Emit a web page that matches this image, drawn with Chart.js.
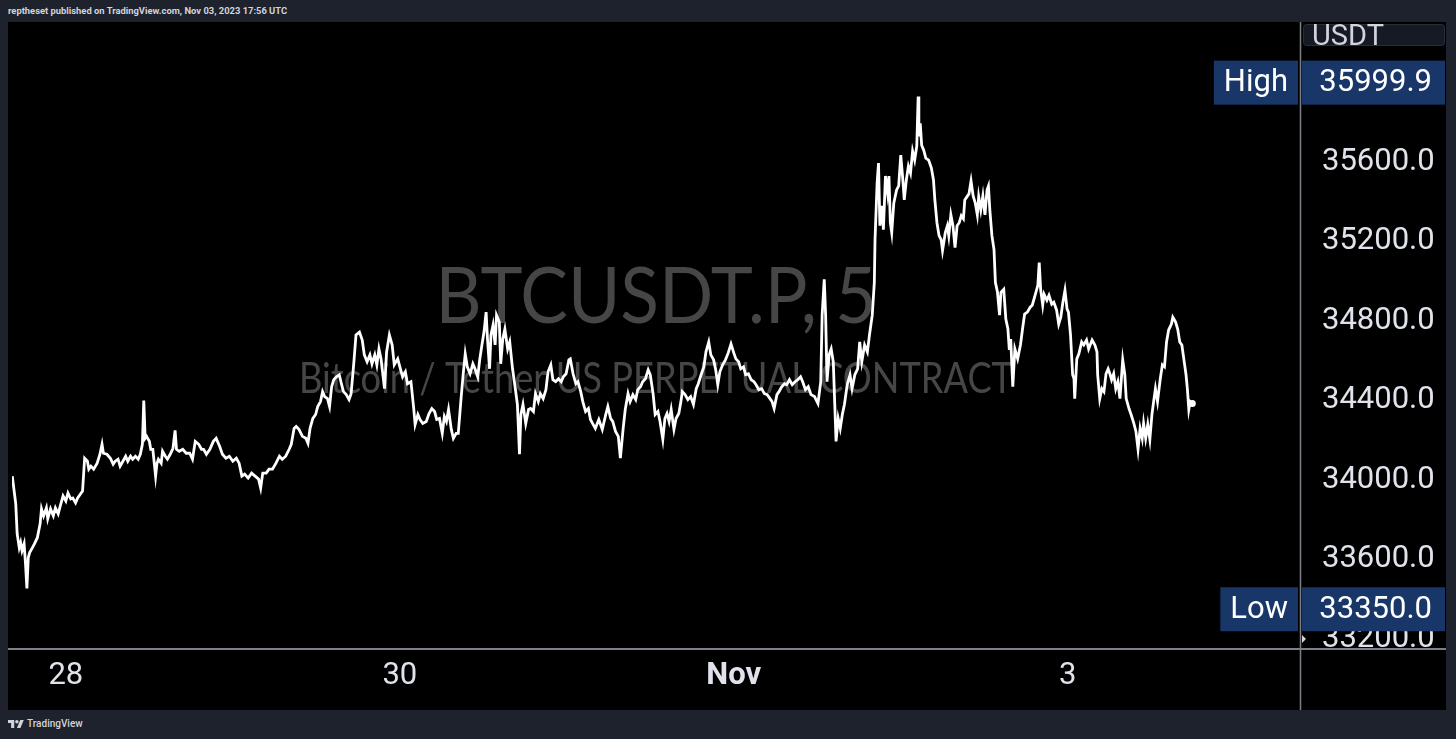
<!DOCTYPE html>
<html lang="en">
<head>
<meta charset="UTF-8" />
<meta name="viewport" content="width=device-width, initial-scale=1.0" />
<script src="https://cdn.jsdelivr.net/npm/chart.js@4.4.0/dist/chart.umd.min.js"></script>
<title>BTCUSDT.P, 5</title>
<style>
  html, body { margin: 0; padding: 0; width: 1456px; height: 739px; overflow: hidden; background: #1e222d; }
  #header { position: absolute; left: 8px; top: 5px; font: 700 9.4px Roboto, sans-serif; color: #d1d4dc; white-space: nowrap; }
  #wrap { position: absolute; left: 8px; top: 22px; width: 1438px; height: 688px; background: #000; }
  #footer { position: absolute; left: 8px; top: 718px; font: 500 10px Roboto, sans-serif; color: #d1d4dc; display: flex; align-items: center; gap: 3px; }
</style>
</head>
<body>
<div id="header">reptheset published on TradingView.com, Nov 03, 2023 17:56 UTC</div>
<div id="wrap"><canvas id="myChart" width="1438" height="688"></canvas></div>
<div id="footer">
  <svg width="16" height="11" viewBox="0 0 36 24"><path d="M14 22H7V11H0V4h14v18z" fill="#d1d4dc"/><circle cx="20" cy="8" r="4" fill="#d1d4dc"/><path d="M28 22h-8l7.5-18h8L28 22z" fill="#d1d4dc"/></svg>
  <span>TradingView</span>
</div>
<script>
// hours since Oct 28 00:00 UTC, 5m close of BTCUSDT.P
const hours = [
  -7.7,-7.2,-7.0,-6.7,-6.5,-6.3,-6.0,-5.8,-5.6,-5.4,-5.2,-4.8,-4.5,-4.1,-3.7,-3.5,-3.2,-2.8,-2.6,-2.2,
  -1.8,-1.5,-1.1,-0.8,-0.4,0.0,0.3,0.7,1.0,1.4,1.7,2.1,2.4,2.7,3.1,3.3,3.6,4.0,4.5,4.9,
  5.2,5.4,5.9,6.4,6.8,7.1,7.5,7.8,8.2,8.6,8.9,9.3,9.6,10.0,10.4,10.7,11.0,11.2,11.4,11.6,
  12.0,12.2,12.5,12.9,13.1,13.3,13.7,13.9,14.3,14.6,15.0,15.4,15.7,15.9,16.3,16.8,17.3,17.8,18.2,18.6,
  19.1,19.5,
  19.8,20.2,20.7,21.2,21.6,22.1,22.5,23.0,23.5,24.0,24.5,24.9,25.3,25.7,26.2,26.7,27.2,27.7,28.0,28.3,
  28.8,29.2,29.7,30.2,30.7,31.1,31.6,32.1,32.4,32.8,33.1,33.5,34.0,34.5,34.8,35.1,35.5,35.9,36.2,36.6,
  36.9,37.2,37.6,37.9,38.2,38.5,38.9,39.3,39.6,39.9,40.3,40.7,41.0,41.4,41.7,42.2,42.6,42.9,43.3,43.7,
  44.0,44.4,44.7,45.0,45.3,45.8,46.1,46.5,46.9,47.2,47.7,48.2,
  48.4,48.8,49.1,49.6,50.0,50.2,50.6,50.9,51.3,51.8,52.2,52.6,53.0,53.3,53.7,54.1,54.4,54.7,55.0,55.4,
  55.7,56.1,56.4,56.8,57.1,57.4,57.7,58.1,58.5,58.8,59.2,59.5,59.8,60.1,60.4,60.6,60.9,61.1,61.4,61.7,
  61.9,62.3,62.5,62.8,63.1,63.5,63.8,64.2,64.6,64.9,65.2,65.4,65.7,66.1,66.5,66.8,67.2,67.5,67.9,68.2,
  68.6,69.0,69.3,69.7,70.0,70.4,70.8,71.2,71.5,71.9,72.3,72.5,72.9,73.3,73.6,74.0,74.3,74.7,75.1,75.4,
  75.7,76.1,76.6,77.1,77.6,77.9,78.3,78.6,79.0,79.4,79.7,80.1,80.4,80.8,81.1,81.5,81.9,82.2,82.6,82.9,
  83.3,83.7,84.0,84.4,84.7,85.1,85.4,85.8,86.1,86.4,86.7,87.0,87.4,87.7,88.1,88.4,88.6,89.0,89.4,89.8,
  90.2,90.6,90.9,91.3,91.7,92.0,92.4,92.7,93.1,93.4,93.7,94.0,94.4,94.8,95.2,95.6,96.0,96.3,96.7,97.0,
  97.4,97.7,98.1,98.5,98.9,99.2,99.6,100.0,100.4,100.8,101.2,101.5,101.8,102.2,102.5,102.9,103.3,103.6,104.0,104.4,
  104.8,105.2,105.6,105.9,106.3,106.7,107.1,
  107.6,108.1,108.5,108.7,109.0,109.2,109.4,109.7,110.0,110.3,110.5,110.7,111.0,111.3,111.6,111.9,112.3,112.7,113.0,113.4,
  113.8,114.1,114.4,114.8,115.2,115.5,115.9,116.2,116.3,116.6,116.8,117.0,117.3,117.5,117.8,118.1,118.3,118.5,118.7,119.0,
  119.4,119.7,120.0,120.3,120.5,120.8,121.1,121.4,121.7,122.0,122.3,122.5,122.6,122.8,123.0,123.3,123.6,124.0,124.4,124.7,
  124.9,125.2,125.5,125.8,126.0,126.4,126.7,126.9,127.2,127.5,127.8,128.1,128.4,128.7,129.0,129.2,129.5,129.8,130.1,130.4,
  130.7,131.0,131.2,131.5,131.8,132.1,132.4,132.6,132.8,133.1,133.4,133.6,133.9,134.2,
  134.4,134.8,135.1,135.4,135.6,135.8,136.1,136.4,136.8,137.2,137.5,137.8,138.2,138.6,138.9,139.3,139.7,139.9,140.1,140.4,
  140.6,141.0,141.3,141.7,142.0,142.4,142.7,143.0,143.3,143.6,143.9,144.1,144.4,144.7,144.9,145.0,145.3,145.6,146.0,146.3,
  146.7,147.0,147.5,147.9,148.2,148.3,148.6,148.9,149.2,149.5,149.8,150.1,150.3,150.6,150.9,151.2,151.5,151.9,152.2,152.4,
  152.8,153.1,153.5,153.8,154.1,154.4,154.7,154.9,155.2,155.5,155.8,156.1,156.4,156.6,156.9,157.3,157.6,157.9,158.2,158.5,
  158.9,159.1,159.5,159.8,160.1,160.4,160.8,161.0,161.2,161.4,161.6,161.9
];
const close = [
  34020,33880,33730,33660,33685,33645,33680,33580,33455,33610,33635,33660,33680,33710,33780,33855,33820,33860,33805,33855,
  33820,33860,33830,33870,33920,33895,33935,33905,33910,33885,33910,33930,33945,34110,34095,34055,34070,34055,34085,34130,
  34180,34135,34130,34110,34080,34095,34105,34070,34095,34120,34095,34120,34105,34120,34105,34130,34180,34400,34210,34220,
  34195,34155,34155,34020,34085,34105,34085,34145,34120,34105,34130,34160,34250,34155,34145,34155,34135,34135,34105,34195,
  34180,34155,
  34155,34130,34155,34195,34210,34170,34130,34110,34120,34095,34110,34085,34020,34030,34010,34035,34020,34005,33960,34035,
  34035,34055,34055,34085,34120,34105,34120,34155,34180,34260,34270,34255,34220,34210,34185,34260,34310,34330,34370,34395,
  34445,34420,34410,34370,34470,34505,34520,34530,34485,34445,34430,34405,34435,34595,34730,34745,34705,34630,34595,34630,
  34585,34630,34580,34660,34610,34460,34645,34730,34680,34580,34610,34545,
  34520,34545,34485,34495,34360,34280,34330,34305,34285,34295,34335,34360,34345,34305,34310,34235,34320,34295,34355,34255,
  34210,34235,34235,34410,34530,34635,34570,34535,34585,34560,34520,34610,34680,34745,34845,34710,34560,34730,34780,34680,
  34830,34795,34585,34710,34760,34660,34695,34560,34460,34380,34130,34330,34380,34285,34355,34360,34345,34435,34395,34435,
  34410,34455,34545,34580,34505,34495,34510,34495,34520,34535,34605,34610,34535,34485,34495,34445,34395,34345,34360,34305,
  34285,34260,34305,34255,34330,34370,34310,34295,34245,34220,34110,34260,34355,34435,34395,34430,34405,34455,34470,34495,
  34510,34555,34530,34435,34330,34345,34295,34205,34310,34335,34295,34355,34255,34310,34335,34395,34445,34430,34405,34420,
  34380,34460,34485,34530,34570,34645,34695,34630,34605,34555,34480,34545,34580,34605,34640,34685,34640,34610,34595,34560,
  34570,34530,34535,34505,34495,34480,34455,34460,34435,34430,34410,34395,34360,34430,34445,34470,34485,34480,34505,34480,
  34495,34505,34520,34495,34455,34470,34430,
  34420,34385,34495,34830,35010,34830,34495,34630,34660,34595,34395,34195,34310,34260,34330,34380,34480,34530,34460,34530,
  34560,34695,34595,34680,34645,34730,34830,34995,35210,35495,35595,35280,35380,35260,35530,35445,35530,35295,35245,35395,
  35460,35480,35635,35510,35410,35510,35580,35545,35655,35610,35680,35930,35730,35795,35685,35660,35620,35610,35570,35510,
  35410,35295,35230,35210,35155,35245,35280,35230,35335,35280,35170,35280,35295,35330,35315,35410,35425,35440,35505,35430,
  35395,35335,35425,35360,35430,35335,35460,35480,35360,35230,35160,34995,34945,34830,
  34945,34960,34810,34760,34655,34710,34470,34660,34610,34680,34760,34835,34845,34870,34880,34930,34980,35095,34960,34880,
  34935,34905,34930,34885,34895,34855,34785,34820,34895,34955,34860,34845,34730,34530,34510,34410,34610,34635,34695,34680,
  34705,34660,34705,34680,34645,34530,34410,34460,34445,34535,34560,34530,34505,34535,34460,34495,34410,34605,34530,34410,
  34360,34330,34285,34245,34155,34260,34210,34285,34210,34280,34205,34330,34410,34460,34395,34510,34580,34570,34695,34755,
  34785,34820,34795,34760,34695,34680,34580,34530,34455,34355,34395,34385
];
const dayTicks = [0, 48, 96, 144];
const dayLabels = ['28', '30', 'Nov', '3'];
const priceTicks = [33200, 33600, 34000, 34400, 34800, 35200, 35600, 36000];
const highPrice = 35999.9;
const lowPrice = 33350.0;
const symbol = 'BTCUSDT.P, 5';
const description = 'Bitcoin / Tether US PERPETUAL CONTRACT';
const currency = 'USDT';

const FONT = 'Roboto, sans-serif';
const tagColor = '#183768';
const lineGray = '#7d8089';

const points = hours.map((h, i) => ({ x: h, y: close[i] }));

function fitText(ctx, text, x, y, width) {
  const w = ctx.measureText(text).width;
  ctx.save();
  ctx.translate(x, y);
  ctx.scale(width / w, 1);
  ctx.fillText(text, 0, 0);
  ctx.restore();
}

function tag(ctx, yPix, label, value, area) {
  ctx.font = '31px ' + FONT;
  const lw = ctx.measureText(label).width + 20;
  ctx.fillStyle = tagColor;
  ctx.fillRect(area.right - 2 - lw, yPix - 22, lw, 44);
  ctx.fillRect(area.right + 2, yPix - 22, 143, 44);
  ctx.fillStyle = '#ffffff';
  ctx.textBaseline = 'middle';
  ctx.textAlign = 'center';
  ctx.fillText(label, area.right - 2 - lw / 2, yPix + 1);
  ctx.textAlign = 'right';
  ctx.fillText(value, area.right + 132, yPix + 1);
}

const decor = {
  id: 'decor',
  beforeDatasetsDraw(chart) {
    const { ctx, chartArea: a } = chart;
    const cx = (a.left + a.right) / 2;
    ctx.save();
    ctx.fillStyle = '#464646';
    ctx.textAlign = 'center';
    ctx.textBaseline = 'alphabetic';
    ctx.font = '78px Lato, ' + FONT;
    fitText(ctx, symbol, cx, 301, 441);
    ctx.font = '42px Lato, ' + FONT;
    fitText(ctx, description, cx, 371, 714);
    ctx.restore();
  },
  afterDraw(chart) {
    const { ctx, chartArea: a, scales } = chart;
    const W = chart.width, H = chart.height;
    ctx.save();
    // keep the lowest price label from spilling under the time axis
    ctx.fillStyle = '#000';
    ctx.fillRect(a.right, a.bottom, W - a.right, H - a.bottom);
    // pane separators
    ctx.strokeStyle = lineGray;
    ctx.lineWidth = 2;
    ctx.beginPath();
    ctx.moveTo(0, a.bottom + 1);
    ctx.lineTo(W, a.bottom + 1);
    ctx.stroke();
    ctx.lineWidth = 1.5;
    ctx.beginPath();
    ctx.moveTo(a.right + 0.5, 0);
    ctx.lineTo(a.right + 0.5, H);
    ctx.stroke();
    // currency box
    ctx.fillStyle = '#161a24';
    ctx.strokeStyle = '#2a2e39';
    ctx.lineWidth = 1;
    ctx.beginPath();
    ctx.roundRect(a.right + 3.5, 2.5, 141, 21, 3);
    ctx.fill();
    ctx.stroke();
    ctx.fillStyle = '#d1d4dc';
    ctx.font = '29px ' + FONT;
    ctx.textAlign = 'left';
    ctx.textBaseline = 'alphabetic';
    ctx.fillText(currency, a.right + 12, 23);
    // high / low tags
    tag(ctx, scales.y.getPixelForValue(highPrice), 'High', highPrice.toFixed(1), a);
    tag(ctx, scales.y.getPixelForValue(lowPrice), 'Low', lowPrice.toFixed(1), a);
    // small marker on the price scale
    const ym = scales.y.getPixelForValue(33200);
    ctx.fillStyle = '#d1d4dc';
    ctx.beginPath();
    ctx.moveTo(a.right + 2, ym - 4);
    ctx.lineTo(a.right + 6, ym);
    ctx.lineTo(a.right + 2, ym + 4);
    ctx.closePath();
    ctx.fill();
    ctx.restore();
  }
};

const ctx = document.getElementById('myChart').getContext('2d');
const myChart = new Chart(ctx, {
  type: 'line',
  data: {
    datasets: [{
      data: points,
      borderColor: '#ffffff',
      borderWidth: 2.8,
      tension: 0,
      pointRadius: c => (c.dataIndex === close.length - 1 ? 3.5 : 0),
      pointBackgroundColor: '#ffffff',
      pointBorderWidth: 0
    }]
  },
  options: {
    responsive: false,
    animation: false,
    layout: { padding: 0 },
    plugins: { legend: { display: false }, tooltip: { enabled: false } },
    scales: {
      x: {
        type: 'linear',
        min: -7.74,
        max: 177.38,
        grid: { display: false, drawTicks: false },
        border: { display: false },
        afterBuildTicks: s => { s.ticks = dayTicks.map(v => ({ value: v })); },
        afterFit: s => { s.height = 62; s.paddingLeft = 0; s.paddingRight = 0; },
        ticks: {
          autoSkip: false,
          maxRotation: 0,
          padding: 10,
          color: '#e0e3eb',
          font: c => ({ family: FONT, size: 31, weight: dayLabels[c.index] === 'Nov' ? 'bold' : 'normal' }),
          callback: (v, i) => dayLabels[i]
        }
      },
      y: {
        position: 'right',
        min: 33155,
        max: 36285,
        grid: { display: false, drawTicks: false },
        border: { display: false },
        afterBuildTicks: s => { s.ticks = priceTicks.map(v => ({ value: v })); },
        afterFit: s => { s.width = 146; s.paddingTop = 0; s.paddingBottom = 0; },
        ticks: {
          padding: 22,
          color: '#e0e3eb',
          font: { family: FONT, size: 31 },
          callback: v => v.toFixed(1)
        }
      }
    }
  },
  plugins: [decor]
});
</script>
</body>
</html>
